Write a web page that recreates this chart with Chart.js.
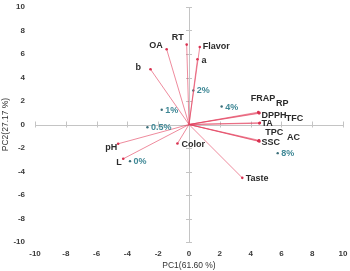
<!DOCTYPE html>
<html>
<head>
<meta charset="utf-8">
<script src="https://cdn.jsdelivr.net/npm/chart.js@4.4.0/dist/chart.umd.min.js"></script>
<style>
  html, body { margin: 0; padding: 0; background: #fff; }
  #wrap { width: 350px; height: 271px; }
</style>
</head>
<body>
<div id="wrap"><canvas id="myChart"></canvas></div>
<script>
// loadings (variables)
var varNames = ['RT', 'Flavor', 'a', 'OA', 'b', 'FRAP', 'RP', 'DPPH', 'TFC', 'TA', 'TPC', 'SSC', 'AC', 'Taste', 'Color', 'pH', 'L'];
var varPC1 = [-0.15, 0.7, 0.55, -1.45, -2.5, 4.5, 4.55, 4.57, 4.6, 4.57, 4.5, 4.57, 4.55, 3.46, -0.75, -4.6, -4.27];
var varPC2 = [6.8, 6.6, 5.55, 6.4, 4.7, 1.05, 0.95, 1.0, 0.15, 0.1, -1.4, -1.45, -1.35, -4.54, -1.62, -1.64, -2.92];

// scores (samples)
var sampleNames = ['1%', '0.5%', '0%', '2%', '4%', '8%'];
var samplePC1 = [-1.77, -2.7, -3.83, 0.28, 2.12, 5.76];
var samplePC2 = [1.25, -0.23, -3.12, 2.9, 1.53, -2.44];

// axis ticks
var axisTicks = [-10, -8, -6, -4, -2, 0, 2, 4, 6, 8, 10];
var xTitle = 'PC1(61.60 %)';
var yTitle = 'PC2(27.17 %)';

// label placement (pixels from the point) - layout only
var varLabelPos = {
  'RT': [-3, -7.5, 'right'], 'Flavor': [3, 0, 'left'], 'a': [4, 1, 'left'],
  'OA': [-4, -4, 'right'], 'b': [-9.5, -2, 'right'],
  'FRAP': [-7.5, -13.5, 'left'], 'RP': [17, -10, 'left'], 'DPPH': [2, 3, 'left'],
  'TFC': [26, -4, 'left'], 'TA': [2, 0.5, 'left'], 'TPC': [7, -8, 'left'],
  'SSC': [2, 1, 'left'], 'AC': [28, -3, 'left'], 'Taste': [3.5, 0.5, 'left'],
  'Color': [4, 1, 'left'], 'pH': [-1, 4, 'right'], 'L': [-1.5, 4, 'right']
};

var datasets = [];
varNames.forEach(function (n, i) {
  datasets.push({
    label: n,
    type: 'line',
    data: [{x: 0, y: 0}, {x: varPC1[i], y: varPC2[i]}],
    borderColor: 'rgba(226, 62, 92, 0.6)',
    borderWidth: 1,
    pointRadius: [0, 1.3],
    pointBackgroundColor: '#d8304f',
    pointBorderWidth: 0,
    fill: false
  });
});
datasets.push({
  label: 'samples',
  type: 'scatter',
  data: sampleNames.map(function (n, i) { return {x: samplePC1[i], y: samplePC2[i]}; }),
  pointRadius: 1.2,
  pointBackgroundColor: '#3c6f7a',
  pointBorderWidth: 0
});

// axis lines crossing at the origin
var crossAxes = {
  id: 'crossAxes',
  beforeDatasetsDraw: function (chart) {
    var c = chart.ctx, xs = chart.scales.x, ys = chart.scales.y;
    var x0 = xs.getPixelForValue(0), y0 = ys.getPixelForValue(0);
    c.save();
    c.strokeStyle = '#c4c4c4';
    c.lineWidth = 1;
    c.beginPath();
    c.moveTo(xs.getPixelForValue(-10), Math.round(y0) + 0.5);
    c.lineTo(xs.getPixelForValue(10), Math.round(y0) + 0.5);
    c.moveTo(Math.round(x0) + 0.5, ys.getPixelForValue(-10));
    c.lineTo(Math.round(x0) + 0.5, ys.getPixelForValue(10));
    axisTicks.forEach(function (t) {
      var px = Math.round(xs.getPixelForValue(t)) + 0.5;
      c.moveTo(px, y0 - 3); c.lineTo(px, y0 + 3);
      var py = Math.round(ys.getPixelForValue(t)) + 0.5;
      c.moveTo(x0 - 3, py); c.lineTo(x0 + 3, py);
    });
    c.stroke();
    c.restore();
  }
};

// text labels at the points
var pointLabels = {
  id: 'pointLabels',
  afterDatasetsDraw: function (chart) {
    var c = chart.ctx;
    c.save();
    c.textBaseline = 'middle';
    c.font = 'bold 9px "Liberation Sans", Arial, sans-serif';
    c.fillStyle = '#2b2b2b';
    varNames.forEach(function (n, i) {
      var el = chart.getDatasetMeta(i).data[1];
      var p = varLabelPos[n];
      c.textAlign = p[2];
      c.fillText(n, el.x + p[0], el.y + p[1]);
    });
    var sm = chart.getDatasetMeta(varNames.length);
    c.fillStyle = '#3f8896';
    c.textAlign = 'left';
    sampleNames.forEach(function (n, i) {
      var el = sm.data[i];
      c.fillText(n, el.x + 3.5, el.y + 0.5);
    });
    c.restore();
  }
};

var ctx = document.getElementById('myChart');
var chart = new Chart(ctx, {
  type: 'scatter',
  data: { datasets: datasets },
  options: {
    responsive: true,
    maintainAspectRatio: false,
    animation: false,
    layout: { padding: { left: 0, right: 7, top: 7, bottom: 0 } },
    plugins: {
      legend: { display: false },
      tooltip: { enabled: false }
    },
    scales: {
      x: {
        type: 'linear',
        min: -10, max: 10,
        grid: { display: false, drawTicks: false },
        border: { display: false },
        afterBuildTicks: function (s) { s.ticks = axisTicks.map(function (v) { return {value: v}; }); },
        afterFit: function (s) { s.height = 29; s.paddingLeft = 0; s.paddingRight = 0; },
        ticks: {
          padding: 7,
          color: '#3a3a3a',
          font: { family: '"Liberation Sans", Arial, sans-serif', size: 8, weight: 'bold' }
        },
        title: {
          display: true,
          text: xTitle,
          color: '#333',
          padding: { top: 0, bottom: 0 },
          font: { family: '"Liberation Sans", Arial, sans-serif', size: 8.5 }
        }
      },
      y: {
        type: 'linear',
        min: -10, max: 10,
        grid: { display: false, drawTicks: false },
        border: { display: false },
        afterBuildTicks: function (s) { s.ticks = axisTicks.map(function (v) { return {value: v}; }); },
        afterFit: function (s) { s.width = 35; s.paddingTop = 0; s.paddingBottom = 0; },
        ticks: {
          padding: 10,
          color: '#3a3a3a',
          font: { family: '"Liberation Sans", Arial, sans-serif', size: 8, weight: 'bold' }
        },
        title: {
          display: true,
          text: yTitle,
          color: '#333',
          padding: { top: 1, bottom: 0 },
          font: { family: '"Liberation Sans", Arial, sans-serif', size: 8.5 }
        }
      }
    }
  },
  plugins: [crossAxes, pointLabels]
});
</script>
</body>
</html>
